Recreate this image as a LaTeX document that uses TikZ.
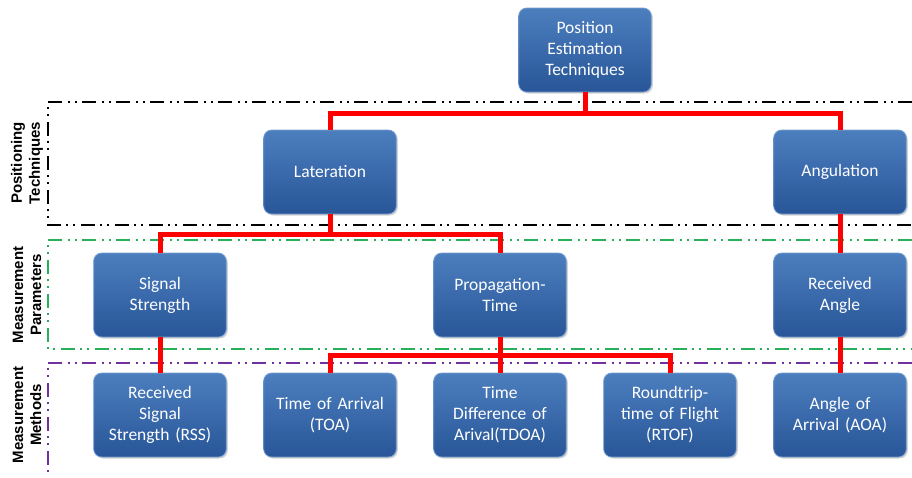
\documentclass[tikz,border=0pt]{standalone}
\usepackage{fontspec}
\setmainfont{Carlito}
\newfontfamily\labelfont{Liberation Sans}
\usetikzlibrary{shadows}

\definecolor{boxtop}{RGB}{76,126,190}
\definecolor{boxbot}{RGB}{40,86,152}
\definecolor{boxline}{RGB}{120,160,210}
\definecolor{wirered}{RGB}{255,0,0}
\definecolor{bandgreen}{RGB}{40,175,90}
\definecolor{bandpurple}{RGB}{112,48,160}

\tikzset{
	techbox/.style={draw=boxline, line width=0.8pt, rounded corners=8pt,
		top color=boxtop, bottom color=boxbot, text=white,
		minimum width=130pt, minimum height=84pt, text width=126pt,
		align=center, font=\fontsize{17.5}{21}\selectfont,
		drop shadow={shadow xshift=1.5pt, shadow yshift=-1.5pt, opacity=0.35}},
	wire/.style={draw=wirered, line width=5pt},
	band/.style={line width=1.8pt,
		dash pattern=on 14pt off 5pt on 2pt off 5pt on 2pt off 6pt},
	bandlabel/.style={rotate=90, align=center,
		font=\labelfont\bfseries\fontsize{15}{18}\selectfont}
}

\begin{document}
\begin{tikzpicture}[x=1pt, y=-1pt]
		\useasboundingbox (0,0) rectangle (912,477);

		% bands
		\draw[band, black] (912,102) -- (48,102) -- (48,225) -- (912,225);
		\draw[band, bandgreen] (912,240) -- (48,240) -- (48,349) -- (912,349);
		\draw[band, bandpurple] (912,363) -- (48,363) -- (48,472);

		\node[bandlabel] (lblpos) at (27,163) {Positioning\\Techniques};
		\node[bandlabel] (lblpar) at (27,295) {Measurement\\Parameters};
		\node[bandlabel] (lblmet) at (27,415) {Measurement\\Methods};

		% boxes
		\node[techbox] (root) at (585,50) {Position\\Estimation\\Techniques};

		\node[techbox] (lat) at (330,172) {Lateration};
		\node[techbox] (ang) at (840,172) {Angulation};

		\node[techbox] (sig) at (160,295) {Signal\\Strength};
		\node[techbox] (prop) at (500,295) {Propagation-\\Time};
		\node[techbox] (recang) at (840,295) {Received\\Angle};

		\node[techbox] (rss) at (160,415) {Received\\Signal\\Strength (RSS)};
		\node[techbox] (toa) at (330,415) {Time of Arrival\\(TOA)};
		\node[techbox] (tdoa) at (500,415) {Time\\Difference of\\Arival(TDOA)};
		\node[techbox] (rtof) at (670,415) {Roundtrip-\\time of Flight\\(RTOF)};
		\node[techbox] (aoa) at (840,415) {Angle of\\Arrival (AOA)};

		% connectors
		\draw[wire] (root.south) -- ++(0,21) -| (lat.north);
		\draw[wire] (root.south) ++(0,21) -| (ang.north);
		\draw[wire] (root.south) -- ++(0,21);

		\draw[wire] (lat.south) -- ++(0,20) -| (sig.north);
		\draw[wire] (lat.south) ++(0,20) -| (prop.north);
		\draw[wire] (ang.south) -- (recang.north);

		\draw[wire] (sig.south) -- (rss.north);
		\draw[wire] (prop.south) -- ++(0,18) -| (toa.north);
		\draw[wire] (prop.south) ++(0,18) -| (rtof.north);
		\draw[wire] (prop.south) -- (tdoa.north);
		\draw[wire] (recang.south) -- (aoa.north);
	\end{tikzpicture}
\end{document}
